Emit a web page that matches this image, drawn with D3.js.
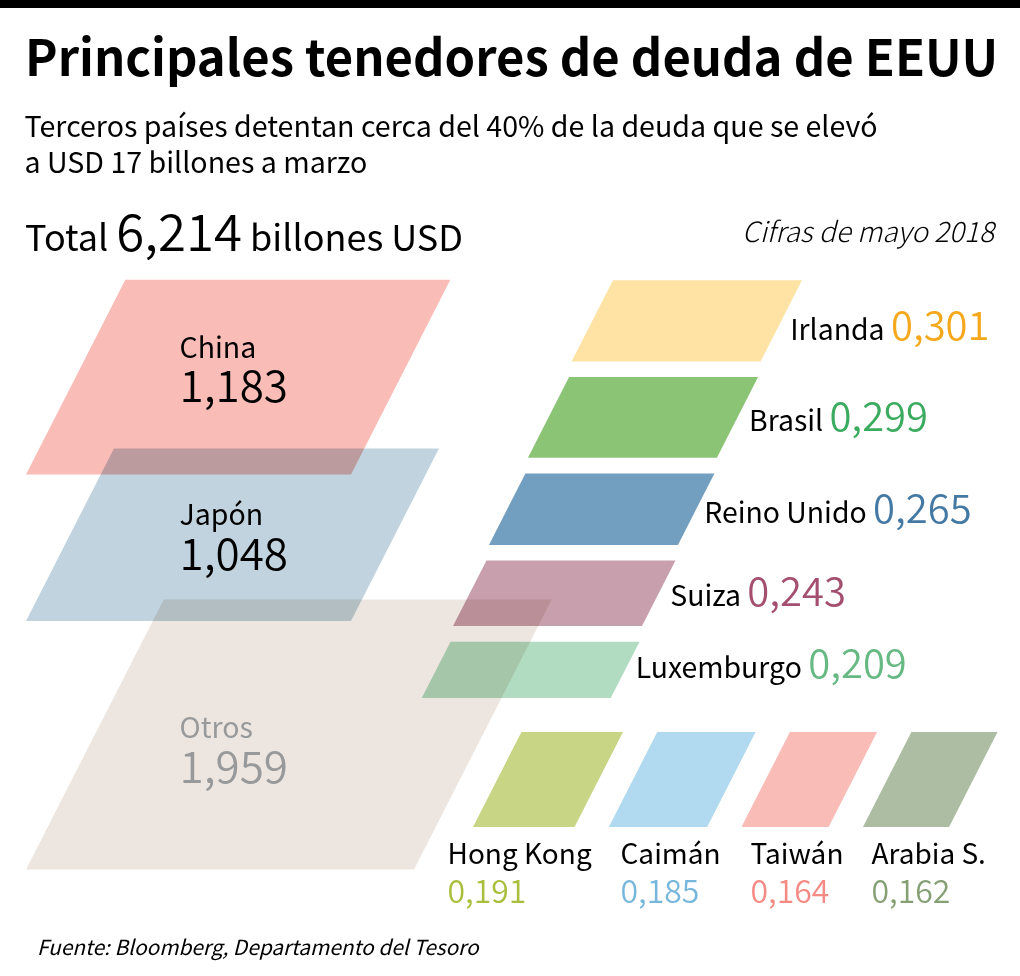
<!DOCTYPE html>
<html>
<head>
<meta charset="utf-8">
<script src="https://cdn.jsdelivr.net/npm/d3@7"></script>
<style>
html, body { margin: 0; padding: 0; background: #fff; }
text { font-family: "Noto Sans CJK SC", "Noto Sans", sans-serif; fill: #000; }
.shape { mix-blend-mode: multiply; }
</style>
</head>
<body>
<svg id="chart" width="1020" height="976"></svg>
<script>
// values in billones USD
var total = 6.214;

var bigNames = ["China", "Japón", "Otros"];
var bigValues = [1.183, 1.048, 1.959];

var midNames = ["Irlanda", "Brasil", "Reino Unido", "Suiza", "Luxemburgo"];
var midValues = [0.301, 0.299, 0.265, 0.243, 0.209];

var smallNames = ["Hong Kong", "Caimán", "Taiwán", "Arabia S."];
var smallValues = [0.191, 0.185, 0.164, 0.162];

// colours
var bigColors = ["#f9bcb6", "#c1d3de", "#ede6e0"];
var bigTextColors = ["#000", "#000", "#97999b"];
var midColors = ["#fee3a4", "#8cc476", "#729ebf", "#c89fad", "#b2dcc1"];
var midTextColors = ["#f5a81c", "#3aab5f", "#4479a4", "#a44f70", "#66b983"];
var smallColors = ["#c7d584", "#b1daf0", "#f9bcb6", "#adbda3"];
var smallTextColors = ["#a9bf3c", "#78b7dc", "#f58a84", "#85a074"];

// all shapes are sized by area, so one side comes from the value
var bigArea = d3.scaleLinear().domain([0, 1]).range([0, 53500]);
var midArea = d3.scaleLinear().domain([0, 1]).range([0, 51000]);
var smallArea = d3.scaleLinear().domain([0, 1]).range([0, 50500]);

var fmt = d3.formatLocale({ decimal: ",", thousands: ".", grouping: [3], currency: ["", ""] }).format(".3f");

var slant = 0.51;
var valueWeight = 350;
var svg = d3.select("#chart");
var line = d3.line();
var shapes = svg.append("g");
var labels = svg.append("g");

// x, y = top left corner
function drawShape(x, y, w, h, color) {
    var off = h * slant;
    shapes.append("path")
        .attr("class", "shape")
        .attr("d", line([[x, y], [x + w, y], [x + w - off, y + h], [x - off, y + h]]) + "Z")
        .attr("fill", color);
}

function addText(x, y, size, str, opts) {
    opts = opts || {};
    return labels.append("text")
        .attr("x", x)
        .attr("y", y)
        .attr("font-size", size)
        .attr("font-weight", opts.weight || 400)
        .attr("font-style", opts.style || null)
        .attr("text-anchor", opts.anchor || null)
        .style("fill", opts.color || null)
        .text(str);
}

// header
svg.append("rect").attr("width", 1020).attr("height", 8).attr("fill", "#000");
// title is narrower in the original, squeeze it sideways
addText(0, 0, 50.5, "Principales tenedores de deuda de EEUU", { weight: 700 })
    .attr("transform", "translate(25,76) scale(0.97,1)");
addText(24.5, 137, 28.6, "Terceros países detentan cerca del 40% de la deuda que se elevó");
addText(24.5, 173, 28.6, "a USD 17 billones a marzo");

var totalText = addText(25, 251, 36, "Total ");
totalText.append("tspan").attr("font-size", 51).attr("font-weight", valueWeight).text(fmt(total));
totalText.append("tspan").text(" billones USD");
addText(994, 242, 28, "Cifras de mayo 2018", { weight: 300, style: "italic", anchor: "end" });

// left column, overlapping stack
var bigWidths = [325, 325, 388];
var bigOverlap = [0, 26, 21.5];
var bigLeft = 26;
var bigNameDy = [78, 77, 139];
var bigTextX = 179.5;
var bigY = 279.7;
bigValues.forEach(function (v, i) {
    var w = bigWidths[i];
    var h = bigArea(v) / w;
    bigY -= bigOverlap[i];
    drawShape(bigLeft + h * slant, bigY, w, h, bigColors[i]);
    addText(bigTextX, bigY + bigNameDy[i], 28.5, bigNames[i], { color: bigTextColors[i] });
    addText(bigTextX, bigY + bigNameDy[i] + 44.5, 44, fmt(v), { weight: valueWeight, color: bigTextColors[i] });
    bigY += h;
});

// right column, same width, height from value
var midWidth = 189;
var midGap = 15.6;
var midStep = 2.5;
var midBaseDy = [60, 54, 50, 45, 36];
var midTextGap = [9, 11.5, 8, 11.5, 10.5];
var midX = 613;
var midY = 280.3;
midValues.forEach(function (v, i) {
    var h = midArea(v) / midWidth;
    drawShape(midX, midY, midWidth, h, midColors[i]);
    var t = addText(midX + midWidth - h * slant / 2 + midTextGap[i], midY + midBaseDy[i], 28.4, midNames[i] + " ");
    t.append("tspan").attr("font-size", 40).attr("font-weight", valueWeight).style("fill", midTextColors[i]).text(fmt(v));
    midX -= h * slant + midStep;
    midY += h + midGap;
});

// bottom row, same height, width from value
var smallHeight = 95;
var smallGap = 34.3;
var smallTextX = [447.5, 620.5, 750.5, 871.5];
var smallX = 473;
var smallY = 732;
smallValues.forEach(function (v, i) {
    var w = smallArea(v) / smallHeight;
    drawShape(smallX + smallHeight * slant, smallY, w, smallHeight, smallColors[i]);
    addText(smallTextX[i], 863.5, 28, smallNames[i]);
    addText(smallTextX[i], 902.5, 32, fmt(v), { weight: valueWeight, color: smallTextColors[i] });
    smallX += w + smallGap;
});

addText(37, 955, 20.8, "Fuente: Bloomberg, Departamento del Tesoro", { style: "italic" });
</script>
</body>
</html>
